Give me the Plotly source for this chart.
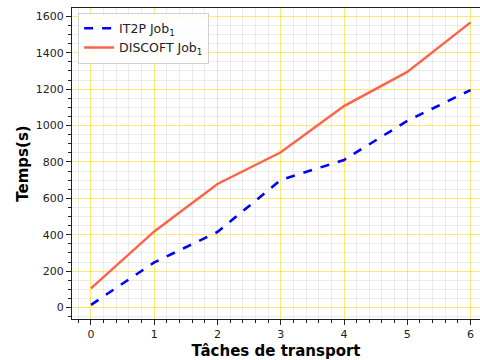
import plotly.graph_objects as go

# Number of transport tasks
taches = [0, 1, 2, 3, 4, 5, 6]
# Completion time (s) per approach
it2p_job1 = [15, 248, 415, 701, 811, 1026, 1195]
discoft_job1 = [105, 418, 679, 853, 1107, 1295, 1567]

fig = go.Figure()
fig.add_trace(go.Scatter(
    x=taches, y=it2p_job1, mode="lines", name="IT2P Job<sub>1</sub>",
    line=dict(color="#0000FF", width=2.6, dash="dash"),
))
fig.add_trace(go.Scatter(
    x=taches, y=discoft_job1, mode="lines", name="DISCOFT Job<sub>1</sub>",
    line=dict(color="#FF6347", width=2.4),
))

axis_font = dict(family="DejaVu Sans", size=11, color="#222")
title_font = dict(family="DejaVu Sans", size=15, color="black")

fig.update_layout(
    width=480, height=360,
    margin=dict(l=72, r=0, t=8, b=41),
    paper_bgcolor="white", plot_bgcolor="white",
    font=dict(family="DejaVu Sans"),
    showlegend=True,
    legend=dict(
        x=0.015, y=0.985, xanchor="left", yanchor="top",
        bgcolor="rgba(255,255,255,0.85)", bordercolor="#d0d0d0", borderwidth=1,
        font=dict(family="DejaVu Sans", size=12.5, color="#222"),
        tracegroupgap=0, itemwidth=30,
    ),
    xaxis=dict(
        range=[-0.3, 6.15], dtick=1, tick0=0,
        showline=True, linecolor="#222", linewidth=1.2, mirror=True,
        ticks="outside", ticklen=5, tickcolor="#222", tickwidth=1,
        tickfont=axis_font,
        showgrid=True, gridcolor="rgba(255,215,0,0.55)", gridwidth=1,
        zeroline=False,
        minor=dict(dtick=0.2, tick0=0, ticks="outside", ticklen=3, tickcolor="#222",
                   showgrid=True, gridcolor="rgba(200,200,200,0.35)", gridwidth=1),
        title=dict(text="<b>Tâches de transport</b>", font=title_font, standoff=5),
    ),
    yaxis=dict(
        range=[-63, 1646], dtick=200, tick0=0,
        showline=True, linecolor="#222", linewidth=1.2, mirror=False,
        ticks="outside", ticklen=5, tickcolor="#222", tickwidth=1,
        tickfont=axis_font,
        showgrid=True, gridcolor="rgba(255,215,0,0.55)", gridwidth=1,
        zeroline=False,
        minor=dict(dtick=50, tick0=0, ticks="outside", ticklen=3, tickcolor="#222",
                   showgrid=True, gridcolor="rgba(200,200,200,0.35)", gridwidth=1),
        title=dict(text="<b>Temps(s)</b>", font=title_font, standoff=3),
    ),
)

fig.write_html("out.html")
